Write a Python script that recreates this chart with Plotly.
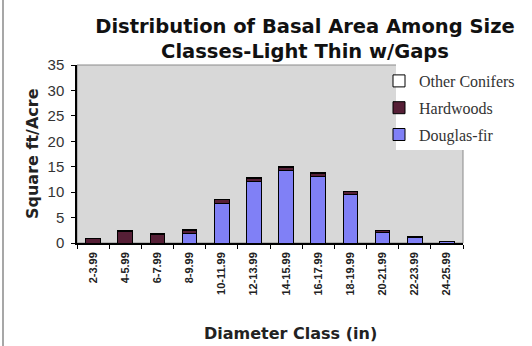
import plotly.graph_objects as go

# Basal area (sq ft / acre) by diameter class, stacked by species group
classes = ["2-3.99", "4-5.99", "6-7.99", "8-9.99", "10-11.99", "12-13.99",
           "14-15.99", "16-17.99", "18-19.99", "20-21.99", "22-23.99", "24-25.99"]
douglas_fir = [0, 0, 0, 1.9, 7.8, 12.1, 14.2, 13.1, 9.5, 2.0, 1.1, 0.2]
hardwoods = [0.8, 2.2, 1.6, 0.6, 0.7, 0.6, 0.7, 0.6, 0.6, 0.5, 0.15, 0.05]
other_conifers = [0.1, 0.3, 0.3, 0.1, 0.1, 0.1, 0.1, 0.1, 0.1, 0, 0, 0]

W, H = 532, 346
L, R, T, B = 77, 69, 65, 103
PW, PH = W - L - R, H - T - B


def px_x(px):
    return (px - L) / PW


def px_y(py):
    return (H - B - py) / PH


sans = "Liberation Sans, Arial, sans-serif"
wide = "DejaVu Sans, Verdana, sans-serif"
serif = "Liberation Serif, Times New Roman, serif"

fig = go.Figure()
series = [
    ("Douglas-fir", douglas_fir, "#8080f6", 3),
    ("Hardwoods", hardwoods, "#561f36", 2),
    ("Other Conifers", other_conifers, "#ffffff", 1),
]
for name, vals, color, rank in series:
    fig.add_trace(go.Bar(
        x=classes, y=vals, name=name, legendgroup=name, legendrank=rank,
        marker=dict(color=color, line=dict(color="#000000", width=1)),
        width=0.46,
    ))

fig.update_layout(
    width=W, height=H,
    margin=dict(l=L, r=R, t=T, b=B),
    barmode="stack",
    paper_bgcolor="#ffffff",
    plot_bgcolor="#d8d8d8",
    title=dict(
        text="<b>Distribution of Basal Area Among Size<br>Classes-Light Thin w/Gaps</b>",
        font=dict(family=wide, size=19.5, color="#111111"),
        x=305 / W, xanchor="center", xref="container",
        y=1 - 33 / H, yanchor="middle", yref="container",
    ),
    legend=dict(
        x=px_x(379), xanchor="left", y=px_y(64), yanchor="top",
        bgcolor="rgba(0,0,0,0)", borderwidth=0,
        font=dict(family=serif, size=16, color="#333333"),
        traceorder="grouped", tracegroupgap=3,
    ),
    xaxis=dict(
        type="category",
        showline=True, linecolor="#000000", linewidth=1.5,
        ticks="outside", ticklen=4, tickcolor="#000000", tickson="boundaries",
        tickangle=-90, ticklabelstandoff=3,
        tickfont=dict(family=sans, size=11, color="#222222", weight="bold"),
        showgrid=False,
    ),
    yaxis=dict(
        range=[0, 35], dtick=5,
        showline=True, linecolor="#000000", linewidth=1.5,
        ticks="outside", ticklen=4, tickcolor="#000000", ticklabelstandoff=4,
        tickfont=dict(family=sans, size=15, color="#333333"),
        showgrid=False, zeroline=False,
    ),
    showlegend=True,
    shapes=[
        # plot-area frame (top and right edges)
        dict(type="rect", xref="paper", yref="paper", x0=0, x1=1, y0=0, y1=1,
             line=dict(color="#8a8a8a", width=1), layer="below"),
        # white panel behind the legend
        dict(type="rect", xref="paper", yref="paper",
             x0=px_x(396), x1=px_x(W + 5), y0=px_y(150), y1=px_y(64),
             fillcolor="#ffffff", line=dict(width=0), layer="below"),
        # outer frame line on the left edge
        dict(type="line", xref="paper", yref="paper",
             x0=px_x(3), x1=px_x(3), y0=px_y(H), y1=px_y(0),
             line=dict(color="#8a8a8a", width=1.5)),
    ],
    annotations=[
        dict(text="<b>Square ft/Acre</b>", xref="paper", yref="paper",
             x=px_x(32), y=px_y(154), textangle=-90, showarrow=False,
             xanchor="center", yanchor="middle",
             font=dict(family=wide, size=16, color="#222222")),
        dict(text="<b>Diameter Class (in)</b>", xref="paper", yref="paper",
             x=px_x(290), y=px_y(333), showarrow=False,
             xanchor="center", yanchor="middle",
             font=dict(family=wide, size=16, color="#222222")),
    ],
)

fig.write_html("out.html")
